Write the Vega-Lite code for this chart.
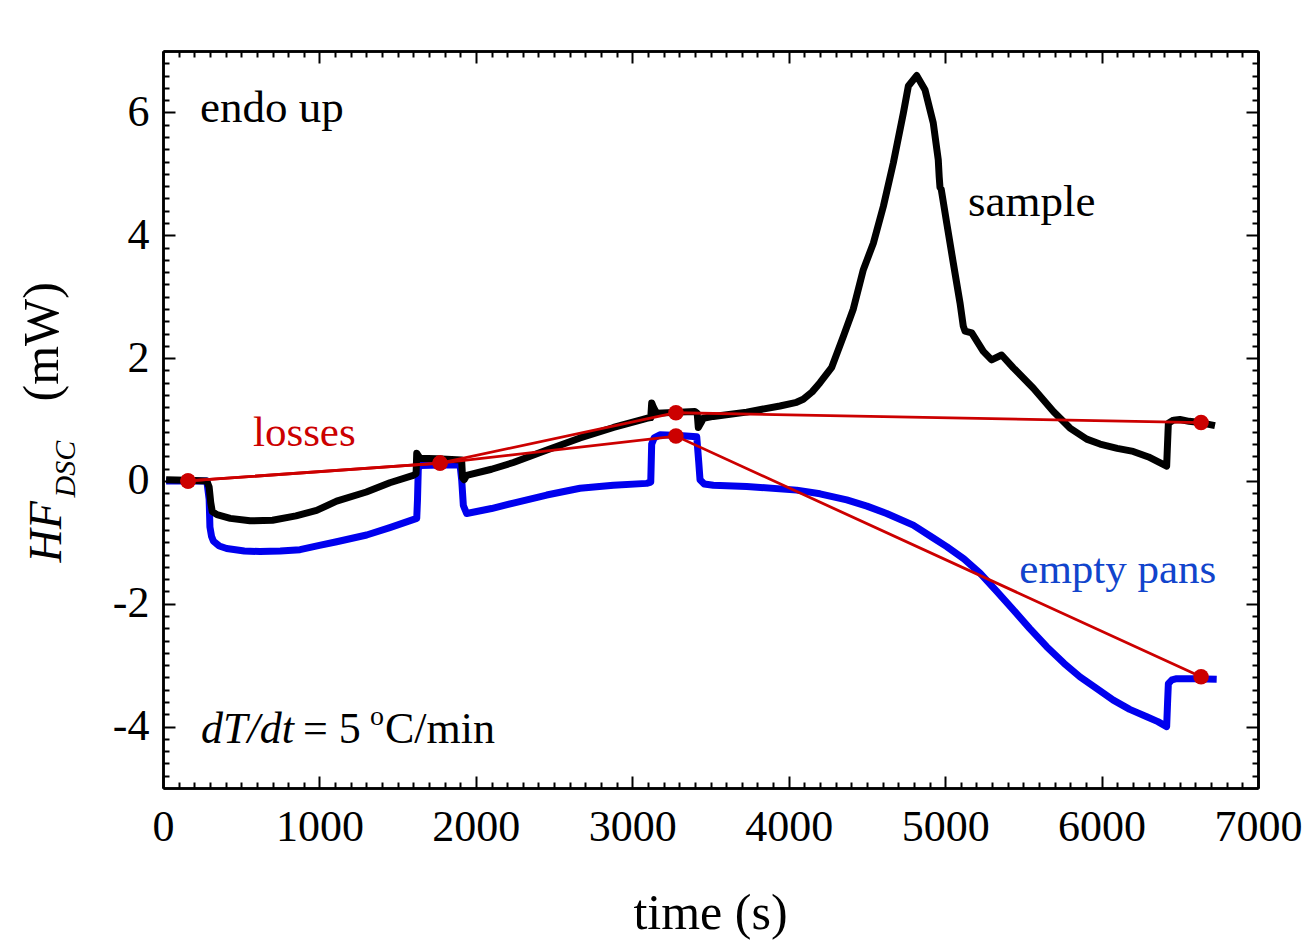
{
  "$schema": "https://vega.github.io/schema/vega-lite/v6.json",
  "width": 1095,
  "height": 737,
  "autosize": {"type": "none"},
  "padding": {"left": 163, "top": 51, "right": 57, "bottom": 161},
  "background": "white",
  "config": {
    "view": {"stroke": null},
    "axis": {
      "grid": false,
      "domainColor": "black",
      "domainWidth": 2.5,
      "tickColor": "black",
      "tickWidth": 2,
      "labelFont": "Liberation Serif",
      "labelFontSize": 44,
      "labelColor": "black",
      "titleFont": "Liberation Serif",
      "titleColor": "black",
      "titleFontWeight": "normal"
    }
  },
  "datasets": {
    "sample": [
      {"t": 20, "hf": 0.02}, {"t": 150, "hf": 0.01}, {"t": 280, "hf": 0.0}, {"t": 295, "hf": -0.1},
      {"t": 305, "hf": -0.35}, {"t": 315, "hf": -0.5}, {"t": 345, "hf": -0.55}, {"t": 430, "hf": -0.61},
      {"t": 556, "hf": -0.65}, {"t": 700, "hf": -0.64}, {"t": 850, "hf": -0.57}, {"t": 982, "hf": -0.48},
      {"t": 1110, "hf": -0.33}, {"t": 1300, "hf": -0.18}, {"t": 1450, "hf": -0.03}, {"t": 1600, "hf": 0.09},
      {"t": 1618, "hf": 0.12}, {"t": 1622, "hf": 0.45}, {"t": 1630, "hf": 0.42}, {"t": 1643, "hf": 0.37},
      {"t": 1750, "hf": 0.36}, {"t": 1909, "hf": 0.34}, {"t": 1915, "hf": 0.05}, {"t": 1925, "hf": 0.02},
      {"t": 1941, "hf": 0.09}, {"t": 2100, "hf": 0.19}, {"t": 2240, "hf": 0.3}, {"t": 2450, "hf": 0.5},
      {"t": 2666, "hf": 0.7}, {"t": 2880, "hf": 0.87}, {"t": 3092, "hf": 1.02}, {"t": 3118, "hf": 1.03},
      {"t": 3124, "hf": 1.27}, {"t": 3135, "hf": 1.2}, {"t": 3156, "hf": 1.1}, {"t": 3300, "hf": 1.12},
      {"t": 3400, "hf": 1.13}, {"t": 3415, "hf": 1.1}, {"t": 3422, "hf": 0.87}, {"t": 3440, "hf": 0.95},
      {"t": 3454, "hf": 1.02}, {"t": 3518, "hf": 1.05}, {"t": 3731, "hf": 1.12}, {"t": 3944, "hf": 1.22},
      {"t": 4050, "hf": 1.28}, {"t": 4093, "hf": 1.33}, {"t": 4150, "hf": 1.45}, {"t": 4200, "hf": 1.6},
      {"t": 4275, "hf": 1.85}, {"t": 4349, "hf": 2.35}, {"t": 4413, "hf": 2.8}, {"t": 4477, "hf": 3.44},
      {"t": 4541, "hf": 3.87}, {"t": 4605, "hf": 4.47}, {"t": 4669, "hf": 5.18}, {"t": 4733, "hf": 5.99},
      {"t": 4765, "hf": 6.43}, {"t": 4818, "hf": 6.6}, {"t": 4871, "hf": 6.37}, {"t": 4924, "hf": 5.83},
      {"t": 4956, "hf": 5.23}, {"t": 4962, "hf": 4.95}, {"t": 4967, "hf": 4.78}, {"t": 4975, "hf": 4.75},
      {"t": 5010, "hf": 4.2}, {"t": 5052, "hf": 3.55}, {"t": 5095, "hf": 2.9}, {"t": 5116, "hf": 2.52},
      {"t": 5127, "hf": 2.44}, {"t": 5170, "hf": 2.41}, {"t": 5244, "hf": 2.11}, {"t": 5297, "hf": 1.97},
      {"t": 5361, "hf": 2.05}, {"t": 5436, "hf": 1.84}, {"t": 5564, "hf": 1.51}, {"t": 5692, "hf": 1.13},
      {"t": 5798, "hf": 0.86}, {"t": 5905, "hf": 0.68}, {"t": 5990, "hf": 0.6}, {"t": 6100, "hf": 0.53},
      {"t": 6202, "hf": 0.48}, {"t": 6300, "hf": 0.39}, {"t": 6416, "hf": 0.24}, {"t": 6420, "hf": 0.5},
      {"t": 6427, "hf": 0.94}, {"t": 6460, "hf": 0.99}, {"t": 6501, "hf": 1.0}, {"t": 6560, "hf": 0.97},
      {"t": 6629, "hf": 0.95}, {"t": 6725, "hf": 0.9}
    ],
    "empty": [
      {"t": 20, "hf": 0.0}, {"t": 150, "hf": 0.0}, {"t": 280, "hf": 0.0}, {"t": 295, "hf": -0.3},
      {"t": 300, "hf": -0.75}, {"t": 310, "hf": -0.9}, {"t": 322, "hf": -0.98}, {"t": 360, "hf": -1.06},
      {"t": 407, "hf": -1.1}, {"t": 520, "hf": -1.14}, {"t": 620, "hf": -1.15}, {"t": 750, "hf": -1.14},
      {"t": 876, "hf": -1.12}, {"t": 1000, "hf": -1.05}, {"t": 1110, "hf": -0.99}, {"t": 1302, "hf": -0.88},
      {"t": 1450, "hf": -0.76}, {"t": 1622, "hf": -0.61}, {"t": 1627, "hf": -0.3}, {"t": 1632, "hf": 0.2},
      {"t": 1645, "hf": 0.25}, {"t": 1780, "hf": 0.26}, {"t": 1899, "hf": 0.26}, {"t": 1910, "hf": 0.0},
      {"t": 1920, "hf": -0.4}, {"t": 1941, "hf": -0.53}, {"t": 2100, "hf": -0.45}, {"t": 2240, "hf": -0.36},
      {"t": 2453, "hf": -0.23}, {"t": 2666, "hf": -0.12}, {"t": 2879, "hf": -0.07}, {"t": 3092, "hf": -0.04},
      {"t": 3118, "hf": -0.02}, {"t": 3124, "hf": 0.6}, {"t": 3140, "hf": 0.7}, {"t": 3177, "hf": 0.75},
      {"t": 3300, "hf": 0.74}, {"t": 3412, "hf": 0.72}, {"t": 3425, "hf": 0.3}, {"t": 3433, "hf": 0.02},
      {"t": 3460, "hf": -0.05}, {"t": 3518, "hf": -0.07}, {"t": 3731, "hf": -0.09}, {"t": 4051, "hf": -0.15},
      {"t": 4200, "hf": -0.21}, {"t": 4371, "hf": -0.31}, {"t": 4500, "hf": -0.41}, {"t": 4626, "hf": -0.53},
      {"t": 4796, "hf": -0.72}, {"t": 4924, "hf": -0.93}, {"t": 5010, "hf": -1.07}, {"t": 5120, "hf": -1.27},
      {"t": 5223, "hf": -1.5}, {"t": 5330, "hf": -1.8}, {"t": 5436, "hf": -2.1}, {"t": 5540, "hf": -2.4},
      {"t": 5649, "hf": -2.7}, {"t": 5760, "hf": -2.97}, {"t": 5862, "hf": -3.19}, {"t": 5970, "hf": -3.38},
      {"t": 6075, "hf": -3.57}, {"t": 6180, "hf": -3.72}, {"t": 6289, "hf": -3.84}, {"t": 6360, "hf": -3.92},
      {"t": 6416, "hf": -4.0}, {"t": 6422, "hf": -3.6}, {"t": 6427, "hf": -3.3}, {"t": 6450, "hf": -3.24},
      {"t": 6480, "hf": -3.22}, {"t": 6600, "hf": -3.22}, {"t": 6736, "hf": -3.23}
    ],
    "losses": [
      {"series": "sample", "t": 160, "hf": 0.0},
      {"series": "sample", "t": 1771, "hf": 0.29},
      {"series": "sample", "t": 3279, "hf": 1.11},
      {"series": "sample", "t": 6636, "hf": 0.95},
      {"series": "empty", "t": 160, "hf": 0.0},
      {"series": "empty", "t": 1771, "hf": 0.29},
      {"series": "empty", "t": 3279, "hf": 0.73},
      {"series": "empty", "t": 6636, "hf": -3.19}
    ],
    "blackNotes": [
      {"t": 237, "hf": 5.84, "label": "endo up"},
      {"t": 5146, "hf": 4.32, "label": "sample"}
    ],
    "redNotes": [{"t": 575, "hf": 0.57, "label": "losses"}],
    "blueNotes": [{"t": 5474, "hf": -1.67, "label": "empty pans"}],
    "rateItalic": [{"t": 243, "hf": -4.275, "label": "dT/dt"}],
    "rateUpright": [
      {"t": 895, "hf": -4.275, "label": "= 5"},
      {"t": 1419, "hf": -4.275, "label": "C/min"}
    ],
    "rateDegree": [{"t": 1323, "hf": -3.98, "label": "o"}]
  },
  "resolve": {"axis": {"x": "independent", "y": "independent"}},
  "layer": [
    {
      "data": {"name": "empty"},
      "mark": {"type": "line", "color": "#0000ee", "strokeWidth": 7, "strokeJoin": "round"},
      "encoding": {
        "x": {
          "field": "t", "type": "quantitative",
          "scale": {"domain": [0, 7000], "nice": false, "zero": false},
          "axis": {
            "orient": "bottom",
            "values": [0, 1000, 2000, 3000, 4000, 5000, 6000, 7000],
            "format": "d",
            "tickSize": -12,
            "labelPadding": 29,
            "labelFlush": false,
            "labelOverlap": false,
            "title": "time (s)",
            "titleFontSize": 50,
            "titleAlign": "center",
            "titleBaseline": "alphabetic",
            "titleX": 547,
            "titleY": 140
          }
        },
        "y": {
          "field": "hf", "type": "quantitative",
          "scale": {"domain": [-5, 7], "nice": false, "zero": false},
          "axis": {
            "orient": "left",
            "values": [-4, -2, 0, 2, 4, 6],
            "tickSize": -12,
            "labelPadding": 26,
            "labelOverlap": false,
            "labelExpr": "datum.value < 0 ? '-' + format(-datum.value, 'd') : datum.label",
            "title": "HF",
            "titleFontStyle": "italic",
            "titleFontSize": 46,
            "titleAngle": 270,
            "titleAlign": "left",
            "titleBaseline": "alphabetic",
            "titleX": -103,
            "titleY": 511
          }
        }
      }
    },
    {
      "data": {"name": "sample"},
      "mark": {"type": "line", "color": "#000000", "strokeWidth": 7, "strokeJoin": "round"},
      "encoding": {
        "x": {
          "field": "t", "type": "quantitative",
          "axis": {
            "orient": "top",
            "values": [0, 1000, 2000, 3000, 4000, 5000, 6000, 7000],
            "tickSize": -12,
            "labels": false,
            "title": null
          }
        },
        "y": {
          "field": "hf", "type": "quantitative",
          "axis": {
            "orient": "right",
            "values": [-4, -2, 0, 2, 4, 6],
            "tickSize": -12,
            "labels": false,
            "title": null
          }
        }
      }
    },
    {
      "data": {"name": "losses"},
      "mark": {"type": "line", "color": "#cc0000", "strokeWidth": 2.8},
      "encoding": {
        "detail": {"field": "series"},
        "x": {
          "field": "t", "type": "quantitative",
          "axis": {
            "orient": "bottom",
            "values": [100, 200, 300, 400, 500, 600, 700, 800, 900, 1100, 1200, 1300, 1400, 1500, 1600, 1700, 1800, 1900, 2100, 2200, 2300, 2400, 2500, 2600, 2700, 2800, 2900, 3100, 3200, 3300, 3400, 3500, 3600, 3700, 3800, 3900, 4100, 4200, 4300, 4400, 4500, 4600, 4700, 4800, 4900, 5100, 5200, 5300, 5400, 5500, 5600, 5700, 5800, 5900, 6100, 6200, 6300, 6400, 6500, 6600, 6700, 6800, 6900],
            "tickSize": -6,
            "labels": false,
            "title": null
          }
        },
        "y": {
          "field": "hf", "type": "quantitative",
          "axis": {
            "orient": "left",
            "values": [-4.8, -4.6, -4.4, -4.2, -3.8, -3.6, -3.4, -3.2, -3, -2.8, -2.6, -2.4, -2.2, -1.8, -1.6, -1.4, -1.2, -1, -0.8, -0.6, -0.4, -0.2, 0.2, 0.4, 0.6, 0.8, 1, 1.2, 1.4, 1.6, 1.8, 2.2, 2.4, 2.6, 2.8, 3, 3.2, 3.4, 3.6, 3.8, 4.2, 4.4, 4.6, 4.8, 5, 5.2, 5.4, 5.6, 5.8, 6.2, 6.4, 6.6, 6.8],
            "tickSize": -6,
            "labels": false,
            "title": "DSC",
            "titleFontStyle": "italic",
            "titleFontSize": 30,
            "titleAngle": 270,
            "titleAlign": "left",
            "titleBaseline": "alphabetic",
            "titleX": -89,
            "titleY": 446
          }
        }
      }
    },
    {
      "data": {"name": "losses"},
      "mark": {"type": "circle", "color": "#cc0000", "size": 240, "opacity": 1},
      "encoding": {
        "x": {"field": "t", "type": "quantitative", "axis": null},
        "y": {"field": "hf", "type": "quantitative", "axis": null}
      }
    },
    {
      "data": {"name": "blackNotes"},
      "mark": {"type": "text", "font": "Liberation Serif", "fontSize": 45, "align": "left", "baseline": "alphabetic", "color": "black"},
      "encoding": {
        "text": {"field": "label"},
        "x": {
          "field": "t", "type": "quantitative",
          "axis": {
            "orient": "top",
            "values": [100, 200, 300, 400, 500, 600, 700, 800, 900, 1100, 1200, 1300, 1400, 1500, 1600, 1700, 1800, 1900, 2100, 2200, 2300, 2400, 2500, 2600, 2700, 2800, 2900, 3100, 3200, 3300, 3400, 3500, 3600, 3700, 3800, 3900, 4100, 4200, 4300, 4400, 4500, 4600, 4700, 4800, 4900, 5100, 5200, 5300, 5400, 5500, 5600, 5700, 5800, 5900, 6100, 6200, 6300, 6400, 6500, 6600, 6700, 6800, 6900],
            "tickSize": -6,
            "labels": false,
            "title": null
          }
        },
        "y": {
          "field": "hf", "type": "quantitative",
          "axis": {
            "orient": "right",
            "values": [-4.8, -4.6, -4.4, -4.2, -3.8, -3.6, -3.4, -3.2, -3, -2.8, -2.6, -2.4, -2.2, -1.8, -1.6, -1.4, -1.2, -1, -0.8, -0.6, -0.4, -0.2, 0.2, 0.4, 0.6, 0.8, 1, 1.2, 1.4, 1.6, 1.8, 2.2, 2.4, 2.6, 2.8, 3, 3.2, 3.4, 3.6, 3.8, 4.2, 4.4, 4.6, 4.8, 5, 5.2, 5.4, 5.6, 5.8, 6.2, 6.4, 6.6, 6.8],
            "tickSize": -6,
            "labels": false,
            "title": null
          }
        }
      }
    },
    {
      "data": {"name": "redNotes"},
      "mark": {"type": "text", "font": "Liberation Serif", "fontSize": 43, "align": "left", "baseline": "alphabetic", "color": "#cc0000"},
      "encoding": {
        "text": {"field": "label"},
        "x": {"field": "t", "type": "quantitative", "axis": null},
        "y": {
          "field": "hf", "type": "quantitative",
          "axis": {
            "orient": "left",
            "domain": false,
            "ticks": false,
            "labels": false,
            "title": "(mW)",
            "titleFontSize": 50,
            "titleAngle": 270,
            "titleAlign": "left",
            "titleBaseline": "alphabetic",
            "titleX": -106,
            "titleY": 350
          }
        }
      }
    },
    {
      "data": {"name": "blueNotes"},
      "mark": {"type": "text", "font": "Liberation Serif", "fontSize": 43, "align": "left", "baseline": "alphabetic", "color": "#1144cc"},
      "encoding": {
        "text": {"field": "label"},
        "x": {"field": "t", "type": "quantitative", "axis": null},
        "y": {"field": "hf", "type": "quantitative", "axis": null}
      }
    },
    {
      "data": {"name": "rateItalic"},
      "mark": {"type": "text", "font": "Liberation Serif", "fontSize": 44, "fontStyle": "italic", "align": "left", "baseline": "alphabetic", "color": "black"},
      "encoding": {
        "text": {"field": "label"},
        "x": {"field": "t", "type": "quantitative", "axis": null},
        "y": {"field": "hf", "type": "quantitative", "axis": null}
      }
    },
    {
      "data": {"name": "rateUpright"},
      "mark": {"type": "text", "font": "Liberation Serif", "fontSize": 44, "align": "left", "baseline": "alphabetic", "color": "black"},
      "encoding": {
        "text": {"field": "label"},
        "x": {"field": "t", "type": "quantitative", "axis": null},
        "y": {"field": "hf", "type": "quantitative", "axis": null}
      }
    },
    {
      "data": {"name": "rateDegree"},
      "mark": {"type": "text", "font": "Liberation Serif", "fontSize": 28, "align": "left", "baseline": "alphabetic", "color": "black"},
      "encoding": {
        "text": {"field": "label"},
        "x": {"field": "t", "type": "quantitative", "axis": null},
        "y": {"field": "hf", "type": "quantitative", "axis": null}
      }
    }
  ]
}
